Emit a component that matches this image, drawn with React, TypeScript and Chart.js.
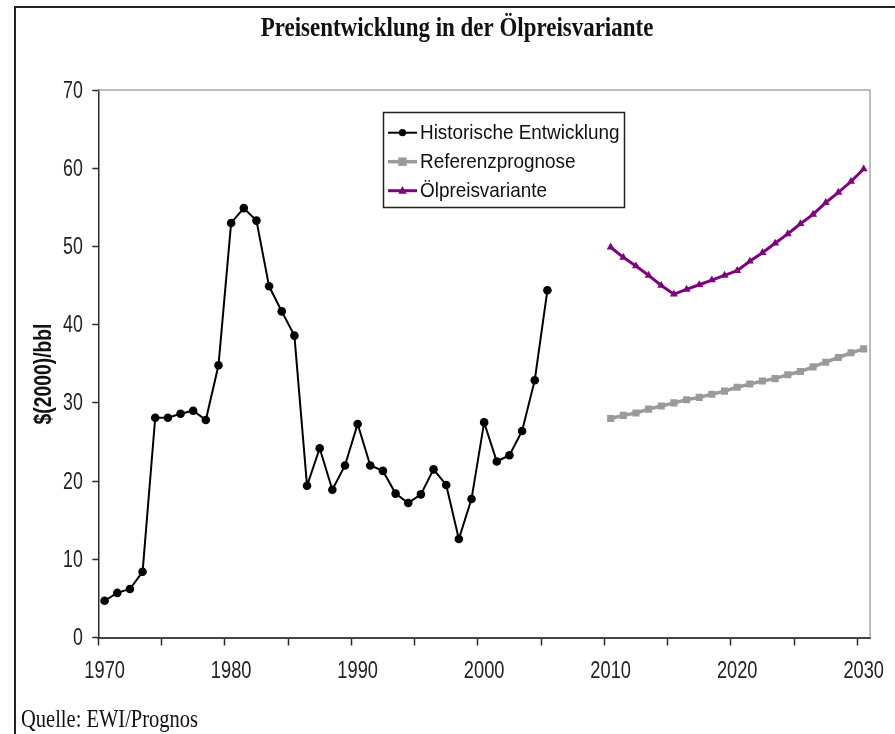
import { useEffect, useRef } from 'react';
import { Chart, registerables } from 'chart.js';

Chart.register(...registerables);

// ---- data ----
const allYears = [
  '1970', '1971', '1972', '1973', '1974', '1975', '1976', '1977', '1978', '1979',
  '1980', '1981', '1982', '1983', '1984', '1985', '1986', '1987', '1988', '1989',
  '1990', '1991', '1992', '1993', '1994', '1995', '1996', '1997', '1998', '1999',
  '2000', '2001', '2002', '2003', '2004', '2005', '2006', '2007', '2008', '2009',
  '2010', '2011', '2012', '2013', '2014', '2015', '2016', '2017', '2018', '2019',
  '2020', '2021', '2022', '2023', '2024', '2025', '2026', '2027', '2028', '2029',
  '2030',
];
const xLabelYears = ['1970', '1980', '1990', '2000', '2010', '2020', '2030'];

const histYears = [
  '1970', '1971', '1972', '1973', '1974', '1975', '1976', '1977', '1978', '1979',
  '1980', '1981', '1982', '1983', '1984', '1985', '1986', '1987', '1988', '1989',
  '1990', '1991', '1992', '1993', '1994', '1995', '1996', '1997', '1998', '1999',
  '2000', '2001', '2002', '2003', '2004', '2005',
];
const histValues = [
  4.7, 5.7, 6.2, 8.4, 28.1, 28.1, 28.6, 29.0, 27.8, 34.8,
  53.0, 54.9, 53.3, 44.9, 41.7, 38.6, 19.4, 24.2, 18.9, 22.0,
  27.3, 22.0, 21.3, 18.4, 17.2, 18.3, 21.5, 19.5, 12.6, 17.7,
  27.5, 22.5, 23.3, 26.4, 32.9, 44.4,
];

const forecastYears = [
  '2010', '2011', '2012', '2013', '2014', '2015', '2016', '2017', '2018', '2019',
  '2020', '2021', '2022', '2023', '2024', '2025', '2026', '2027', '2028', '2029',
  '2030',
];
const referenzValues = [
  28.0, 28.4, 28.7, 29.2, 29.6, 30.0, 30.4, 30.7, 31.1, 31.5,
  32.0, 32.4, 32.8, 33.1, 33.6, 34.0, 34.6, 35.2, 35.8, 36.4,
  36.9,
];
const oelpreisValues = [
  49.9, 48.6, 47.5, 46.3, 45.0, 43.9, 44.5, 45.1, 45.7, 46.3,
  46.9, 48.1, 49.2, 50.4, 51.6, 52.9, 54.1, 55.6, 56.9, 58.3,
  59.9,
];

const seriesNames = ['Historische Entwicklung', 'Referenzprognose', 'Ölpreisvariante'];
const yMin = 0;
const yMax = 70;
const yStep = 10;

const titleText = 'Preisentwicklung in der Ölpreisvariante';
const yTitleText = '$(2000)/bbl';
const sourceText = 'Quelle: EWI/Prognos';

// ---- styles ----
const SANS = "'Liberation Sans', Arial, sans-serif";
const SERIF = "'Liberation Serif', 'Times New Roman', serif";
const AXIS_COLOR = '#2b2b2b';
const GRAY = '#9a9a9a';
const PURPLE = '#800080';

function scaledText(
  ctx: CanvasRenderingContext2D,
  text: string,
  x: number,
  y: number,
  font: string,
  sx: number,
  align: CanvasTextAlign,
  baseline: CanvasTextBaseline,
  rot = 0,
  color = '#111',
) {
  ctx.save();
  ctx.translate(x, y);
  if (rot) ctx.rotate(rot);
  ctx.scale(sx, 1);
  ctx.font = font;
  ctx.textAlign = align;
  ctx.textBaseline = baseline;
  ctx.fillStyle = color;
  ctx.fillText(text, 0, 0);
  ctx.restore();
}

function drawMarker(ctx: CanvasRenderingContext2D, style: string, x: number, y: number, r: number, color: string) {
  ctx.fillStyle = color;
  ctx.beginPath();
  if (style === 'circle') {
    ctx.arc(x, y, r, 0, Math.PI * 2);
  } else if (style === 'rect') {
    ctx.rect(x - r, y - r, 2 * r, 2 * r);
  } else {
    ctx.moveTo(x, y - r * 1.1);
    ctx.lineTo(x + r, y + r * 0.7);
    ctx.lineTo(x - r, y + r * 0.7);
    ctx.closePath();
  }
  ctx.fill();
}

const decorPlugin = {
  id: 'decor',
  beforeDatasetsDraw(chart: any) {
    const { ctx, chartArea: ca } = chart;
    ctx.save();
    ctx.strokeStyle = '#a8a8a8';
    ctx.lineWidth = 1.5;
    ctx.beginPath();
    ctx.moveTo(ca.left, ca.top);
    ctx.lineTo(ca.right, ca.top);
    ctx.lineTo(ca.right, ca.bottom);
    ctx.stroke();
    ctx.restore();
  },
  afterDraw(chart: any) {
    const { ctx, chartArea: ca } = chart;
    ctx.save();
    // outer frame (left + top)
    ctx.strokeStyle = '#222';
    ctx.lineWidth = 2;
    ctx.beginPath();
    ctx.moveTo(15, 734);
    ctx.lineTo(15, 7);
    ctx.lineTo(895, 7);
    ctx.stroke();

    // tick labels from the library's scales
    const xs = chart.scales.x;
    xs.ticks.forEach((t: any, i: number) => {
      const lab = xs.getLabelForValue(t.value);
      if (!xLabelYears.includes(lab)) return;
      scaledText(ctx, lab, xs.getPixelForTick(i), 671, `24px ${SANS}`, 0.76, 'center', 'middle', 0, '#222');
    });
    const ys = chart.scales.y;
    ys.ticks.forEach((t: any, i: number) => {
      scaledText(ctx, String(t.value), ca.left - 15.5, ys.getPixelForTick(i) + 1, `24px ${SANS}`, 0.74, 'right', 'middle', 0, '#222');
    });

    // title
    scaledText(ctx, titleText, 457, 36, `bold 28px ${SERIF}`, 0.82, 'center', 'alphabetic');
    // source
    scaledText(ctx, sourceText, 21, 727, `25px ${SERIF}`, 0.82, 'left', 'alphabetic');
    // y axis title
    scaledText(ctx, yTitleText, 45, 374, `bold 23px ${SANS}`, 0.84, 'center', 'middle', -Math.PI / 2);

    // legend
    const bx = 383.5, by = 112.5, bw = 241, bh = 95;
    ctx.strokeStyle = '#222';
    ctx.lineWidth = 1.5;
    ctx.strokeRect(bx, by, bw, bh);
    const rowsY = [132.7, 161.7, 190.7];
    chart.data.datasets.forEach((ds: any, i: number) => {
      const y = rowsY[i];
      ctx.strokeStyle = ds.borderColor;
      ctx.lineWidth = ds.borderWidth;
      ctx.beginPath();
      ctx.moveTo(388, y);
      ctx.lineTo(417, y);
      ctx.stroke();
      drawMarker(ctx, ds.pointStyle, 402.5, y, i === 0 ? 3.6 : 4.2, ds.borderColor);
      scaledText(ctx, ds.label, 420, y + 1, `21px ${SANS}`, 0.9, 'left', 'middle');
    });
    ctx.restore();
  },
};

export default function App() {
  const ref = useRef<HTMLCanvasElement | null>(null);

  useEffect(() => {
    if (!ref.current) return;
    const chart = new Chart(ref.current, {
      type: 'line',
      data: {
        labels: allYears,
        datasets: [
          {
            label: seriesNames[0],
            data: histYears.map((x, i) => ({ x, y: histValues[i] })),
            borderColor: '#000000',
            backgroundColor: '#000000',
            borderWidth: 2,
            pointStyle: 'circle',
            pointRadius: 4.3,
            pointBorderWidth: 0,
            pointBackgroundColor: '#000000',
            tension: 0,
          },
          {
            label: seriesNames[1],
            data: forecastYears.map((x, i) => ({ x, y: referenzValues[i] })),
            borderColor: GRAY,
            backgroundColor: GRAY,
            borderWidth: 3.5,
            pointStyle: 'rect',
            pointRadius: 5,
            pointBorderWidth: 0,
            pointBackgroundColor: GRAY,
            tension: 0,
          },
          {
            label: seriesNames[2],
            data: forecastYears.map((x, i) => ({ x, y: oelpreisValues[i] })),
            borderColor: PURPLE,
            backgroundColor: PURPLE,
            borderWidth: 3,
            pointStyle: 'triangle',
            pointRadius: 4.6,
            pointBorderWidth: 0,
            pointBackgroundColor: PURPLE,
            tension: 0,
          },
        ],
      },
      options: {
        responsive: false,
        animation: false,
        devicePixelRatio: 1,
        layout: { padding: { left: 38.3, right: 25, top: 90, bottom: 56.5 } },
        plugins: {
          legend: { display: false },
          tooltip: { enabled: false },
          title: { display: false },
        },
        scales: {
          x: {
            type: 'category',
            offset: true,
            afterFit: (s: any) => { s.height = 40; },
            grid: {
              offset: true,
              drawOnChartArea: false,
              drawTicks: true,
              tickLength: 8,
              tickWidth: 1.5,
              tickColor: (c: any) => (c.index % 5 === 0 ? AXIS_COLOR : 'rgba(0,0,0,0)'),
            },
            border: { display: true, color: '#444', width: 2 },
            ticks: { display: false, autoSkip: false },
          },
          y: {
            min: yMin,
            max: yMax,
            afterFit: (s: any) => { s.width = 60; },
            grid: {
              drawOnChartArea: false,
              drawTicks: true,
              tickLength: 6,
              tickWidth: 1.5,
              tickColor: AXIS_COLOR,
            },
            border: { display: true, color: AXIS_COLOR, width: 1.5 },
            ticks: { display: false, stepSize: yStep },
          },
        },
      },
      plugins: [decorPlugin],
    });
    return () => chart.destroy();
  }, []);

  return (
    <div style={{ position: 'fixed', left: 0, top: 0, width: 895, height: 734, background: '#fff' }}>
      <canvas ref={ref} width={895} height={734} style={{ display: 'block' }} />
    </div>
  );
}
